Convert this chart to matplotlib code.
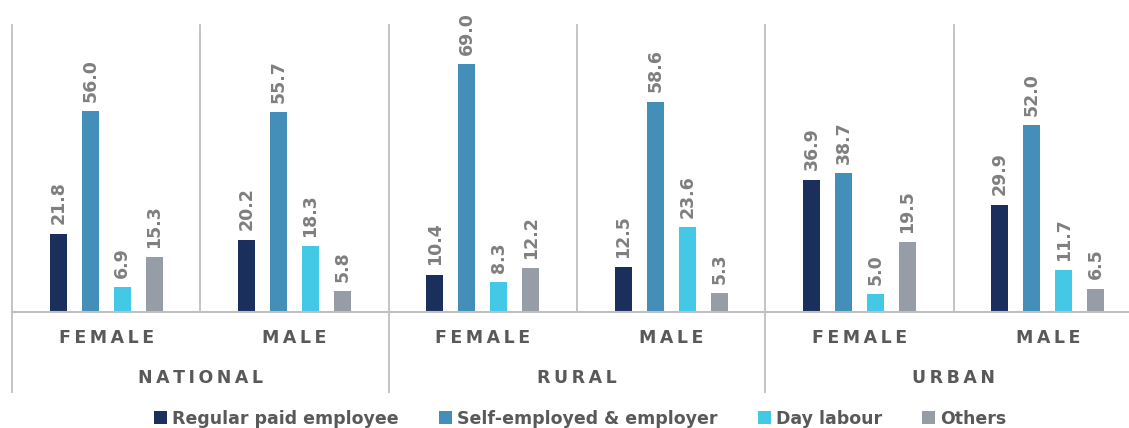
import numpy as np
import matplotlib.pyplot as plt

regions = ["NATIONAL", "RURAL", "URBAN"]
genders = ["FEMALE", "MALE"]
series = ["Regular paid employee", "Self-employed & employer", "Day labour", "Others"]
regular = [21.8, 20.2, 10.4, 12.5, 36.9, 29.9]
selfemp = [56.0, 55.7, 69.0, 58.6, 38.7, 52.0]
daylab = [6.9, 18.3, 8.3, 23.6, 5.0, 11.7]
others = [15.3, 5.8, 12.2, 5.3, 19.5, 6.5]
colors = ["#1b2f5c", "#438fba", "#43c8e6", "#969da6"]

plt.rcParams['font.family'] = ['DejaVu Sans']
lab_col = "#595959"
val_col = "#7f7f7f"
line_col = "#bfbfbf"

fig = plt.figure(figsize=(11.29, 4.28), dpi=100)
ax = fig.add_axes([12/1129, (428-312)/428, 1130/1129, (312-25)/428])

x = np.arange(6) + 0.5
width = 0.09
step = 0.17
vals = [regular, selfemp, daylab, others]
for i, (v, c) in enumerate(zip(vals, colors)):
    xs = x + (i - 1.5) * step
    ax.bar(xs, v, width, color=c, label=series[i], zorder=3)
    for xi, vi in zip(xs, v):
        ax.text(xi, vi + 2.6, "{:.1f}".format(vi), rotation=90, ha='center', va='bottom',
                fontsize=12.5, fontweight='bold', color=val_col)

ax.set_xlim(0, 6)
ax.set_ylim(0, 80)
for s in ax.spines.values():
    s.set_visible(False)
ax.set_xticks([])
ax.set_yticks([])
ax.axhline(0, color=line_col, lw=1.5, zorder=4, clip_on=False)

# separators
for b in [1, 3, 5]:
    ax.plot([b, b], [0, 80], color=line_col, lw=1.3, clip_on=False)
for b in [0, 2, 4, 6]:
    ax.plot([b, b], [-22.3, 80], color=line_col, lw=1.3, clip_on=False)

sp = "\u2009"
for i in range(6):
    ax.text(x[i], -7.3, sp.join(genders[i % 2]), ha='center', va='center', fontsize=12.5,
            fontweight='bold', color=lab_col, clip_on=False)
for j in range(3):
    ax.text(2 * j + 1, -18.4, sp.join(regions[j]), ha='center', va='center', fontsize=12.5,
            fontweight='bold', color=lab_col, clip_on=False)

fig.legend(loc='center', bbox_to_anchor=(0.514, 0.022), ncol=4, frameon=False,
           handlelength=0.75, handleheight=0.75, handletextpad=0.3, columnspacing=2.3,
           prop={'size': 12.5, 'weight': 'bold'}, labelcolor=lab_col)

fig.savefig("out.png", dpi=100)
